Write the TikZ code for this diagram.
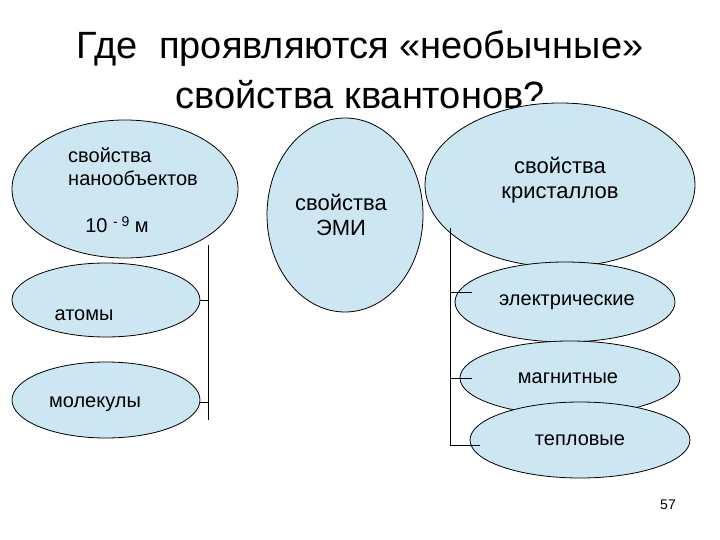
\documentclass[tikz,border=0pt]{standalone}
\usepackage{fontspec}
\setmainfont{Liberation Sans}
\definecolor{fillb}{HTML}{CCE6F2}
\begin{document}
\begin{tikzpicture}[x=1pt,y=-1pt,
  ell/.style={draw=black,line width=0.8pt,fill=fillb},
  lbl/.style={font=\fontsize{20}{23}\selectfont,align=center},
  ln/.style={line width=0.8pt}]
\useasboundingbox (0,0) rectangle (720,540);
\node[font=\fontsize{38}{50}\selectfont,align=center] (title) at (360,70) {Где\ \ проявляются «необычные»\\свойства квантонов?};
\draw[ell] (125,189) ellipse (113 and 69);
\draw[ell] (560,185) ellipse (135 and 82);
\draw[ell] (345,215) ellipse (78 and 97);
\draw[ell] (106,300) ellipse (94 and 37);
\draw[ell] (106,400) ellipse (94 and 38);
\draw[ell] (565,302) ellipse (110 and 40);
\draw[ell] (570,378) ellipse (110 and 37);
\draw[ell] (580,440) ellipse (110 and 38);
\draw[ln] (208,245) -- (208,420);
\draw[ln] (200,300) -- (208,300);
\draw[ln] (200,402) -- (208,402);
\draw[ln] (450,228) -- (450,445);
\draw[ln] (450,292) -- (472,292);
\draw[ln] (450,378) -- (472,378);
\draw[ln] (450,445) -- (480,445);
\node[lbl,align=left] (a) at (133,167) {свойства\\нанообъектов};
\node[lbl] (b) at (117,225) {10 \raisebox{0.6ex}{\fontsize{14}{16}\selectfont - 9} м};
\node[lbl,font=\fontsize{22}{25}\selectfont] (c) at (341,215) {свойства\\ЭМИ};
\node[lbl,font=\fontsize{22}{25}\selectfont] (d) at (560,180) {свойства\\кристаллов};
\node[lbl] (e) at (84,315) {атомы};
\node[lbl] (f) at (95,404) {молекулы};
\node[lbl] (g) at (567,302) {электрические};
\node[lbl] (h) at (568,378) {магнитные};
\node[lbl] (i) at (580,440) {тепловые};
\node[font=\fontsize{14}{16}\selectfont] (p) at (668,505) {57};
\end{tikzpicture}
\end{document}
